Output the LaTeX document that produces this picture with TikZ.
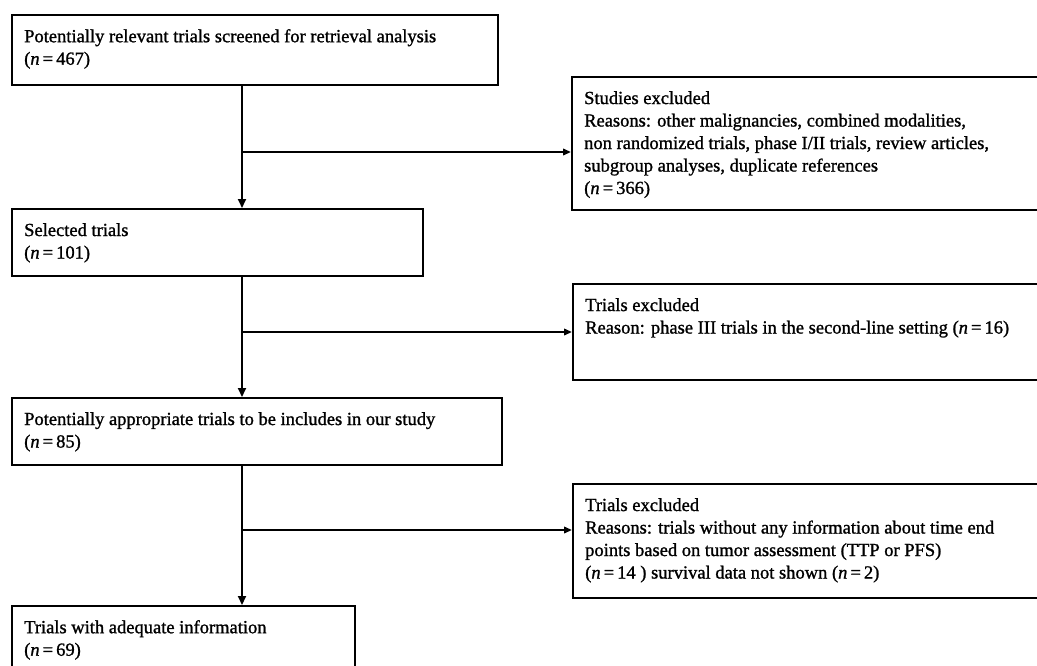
\documentclass[tikz,border=0pt]{standalone}
\usepackage{fontspec}
\setmainfont{Liberation Serif}[FakeBold=1.2]
\usetikzlibrary{arrows.meta,calc}
\tikzset{
  box/.style={draw=black, line width=2pt, rectangle, inner sep=0pt, anchor=north west},
  txt/.style={anchor=north west, inner sep=0pt, align=left, font=\fontsize{18.5}{22.5}\selectfont},
  arr/.style={line width=2pt, -{Triangle[length=9pt,width=8pt]}},
  harr/.style={line width=2pt, -{Triangle[length=8pt,width=6.5pt]}}
}
\newcommand{\nn}[1]{(\textit{n}\,=\,#1)}
\begin{document}
\begin{tikzpicture}[x=1pt,y=-1pt]
\useasboundingbox (0,0) rectangle (1037,665);
\clip (0,0) rectangle (1037,665);
% left boxes
\node[box, minimum width=486pt, minimum height=70pt] (b1) at (11,14) {};
\node[box, minimum width=411pt, minimum height=67pt] (b2) at (11,208) {};
\node[box, minimum width=490pt, minimum height=67pt] (b3) at (11,397) {};
\node[box, minimum width=343pt, minimum height=80pt] (b4) at (11,605) {};
% right boxes
\node[box, minimum width=480pt, minimum height=133pt] (e1) at (571,76) {};
\node[box, minimum width=480pt, minimum height=96pt] (e2) at (572,283) {};
\node[box, minimum width=480pt, minimum height=114pt] (e3) at (572,483) {};
% texts
\node[txt] (t1) at ($(b1.north west)+(13,15)$) {Potentially relevant trials screened for retrieval analysis\\\nn{467}};
\node[txt] (t2) at ($(b2.north west)+(13,15)$) {Selected trials\\\nn{101}};
\node[txt] (t3) at ($(b3.north west)+(13,15)$) {Potentially appropriate trials to be includes in our study\\\nn{85}};
\node[txt] (t4) at ($(b4.north west)+(13,15)$) {Trials with adequate information\\\nn{69}};
\node[txt] (u1) at ($(e1.north west)+(13,15)$) {Studies excluded\\Reasons: other malignancies, combined modalities,\\non randomized trials, phase I/II trials, review articles,\\subgroup analyses, duplicate references\\\nn{366}};
\node[txt] (u2) at ($(e2.north west)+(13,15)$) {Trials excluded\\Reason: phase III trials in the second-line setting \nn{16}};
\node[txt] (u3) at ($(e3.north west)+(13,15)$) {Trials excluded\\Reasons: trials without any information about time end\\points based on tumor assessment (TTP or PFS)\\(\textit{n}\,=\,14 ) survival data not shown \nn{2}};
% connectors
\coordinate (col) at (242,0);
\coordinate (j1) at (242,152);
\coordinate (j2) at (242,332);
\coordinate (j3) at (242,530);
\draw[arr] (b1.south -| col) -- (b2.north -| col);
\draw[arr] (b2.south -| col) -- (b3.north -| col);
\draw[arr] (b3.south -| col) -- (b4.north -| col);
\draw[harr] (j1) -- (j1 -| e1.west);
\draw[harr] (j2) -- (j2 -| e2.west);
\draw[harr] (j3) -- (j3 -| e3.west);
\end{tikzpicture}
\end{document}
